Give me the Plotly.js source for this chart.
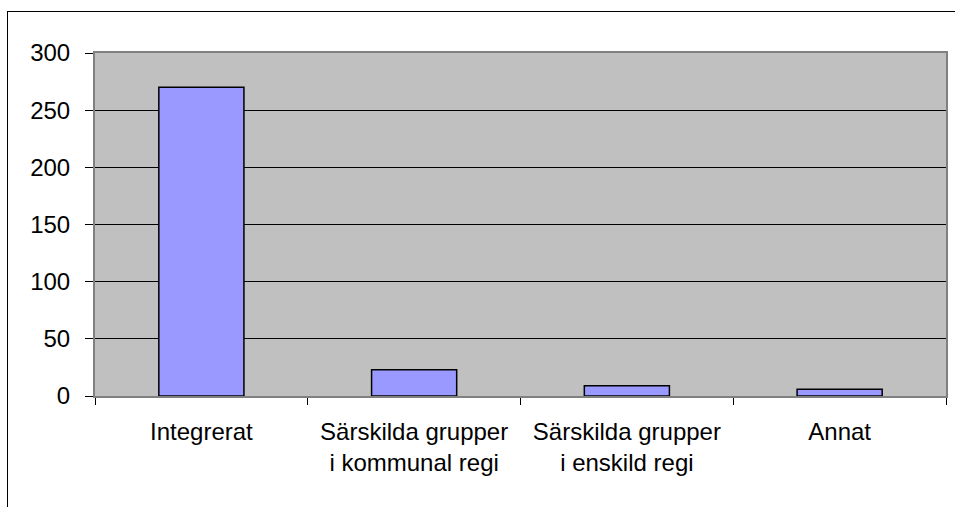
<!DOCTYPE html>
<html>
<head>
<meta charset="utf-8">
<script src="https://cdn.plot.ly/plotly-3.0.1.min.js"></script>
<style>
  html, body { margin: 0; padding: 0; background: #ffffff; }
  #wrap { position: relative; width: 955px; height: 507px; overflow: hidden; }
  #frame { position: absolute; left: 7px; top: 11px; width: 1000px; height: 600px;
           border-left: 1px solid #000; border-top: 1px solid #000; pointer-events: none; }
  #chart { position: absolute; left: 0; top: 0; width: 955px; height: 507px; }
</style>
</head>
<body>
<div id="wrap">
  <div id="chart"></div>
  <div id="frame"></div>
</div>
<script>
const categories = ["Integrerat", "Särskilda grupper<br>i kommunal regi", "Särskilda grupper<br>i enskild regi", "Annat"];
const values = [270, 23, 9, 6];
const yTicks = [0, 50, 100, 150, 200, 250, 300];

const trace = {
  type: "bar",
  x: categories,
  y: values,
  marker: { color: "#9999ff", line: { color: "#000000", width: 1.5 } },
  width: 0.4,
  hoverinfo: "x+y"
};

const font = { family: "Liberation Sans, Arial, sans-serif", size: 24, color: "#000000" };

const layout = {
  width: 955,
  height: 507,
  margin: { l: 95, r: 9, t: 53, b: 111, pad: 0 },
  paper_bgcolor: "rgba(0,0,0,0)",
  plot_bgcolor: "#c0c0c0",
  font: font,
  showlegend: false,
  bargap: 0.6,
  xaxis: {
    type: "category",
    tickson: "boundaries",
    ticks: "outside",
    ticklen: 7,
    tickwidth: 1,
    tickcolor: "#000000",
    showline: true,
    linecolor: "#808080",
    linewidth: 2,
    mirror: true,
    showgrid: false,
    tickfont: font,
    ticklabelstandoff: 13
  },
  yaxis: {
    range: [0, 300],
    tickvals: yTicks,
    ticktext: yTicks.map(String),
    ticks: "outside",
    ticklen: 8,
    tickwidth: 1,
    tickcolor: "#000000",
    showline: true,
    linecolor: "#808080",
    linewidth: 2,
    mirror: true,
    showgrid: true,
    gridcolor: "#000000",
    gridwidth: 1,
    zeroline: false,
    tickfont: font,
    ticklabelstandoff: 10
  }
};

Plotly.newPlot("chart", [trace], layout, { staticPlot: true, displayModeBar: false });
</script>
</body>
</html>
